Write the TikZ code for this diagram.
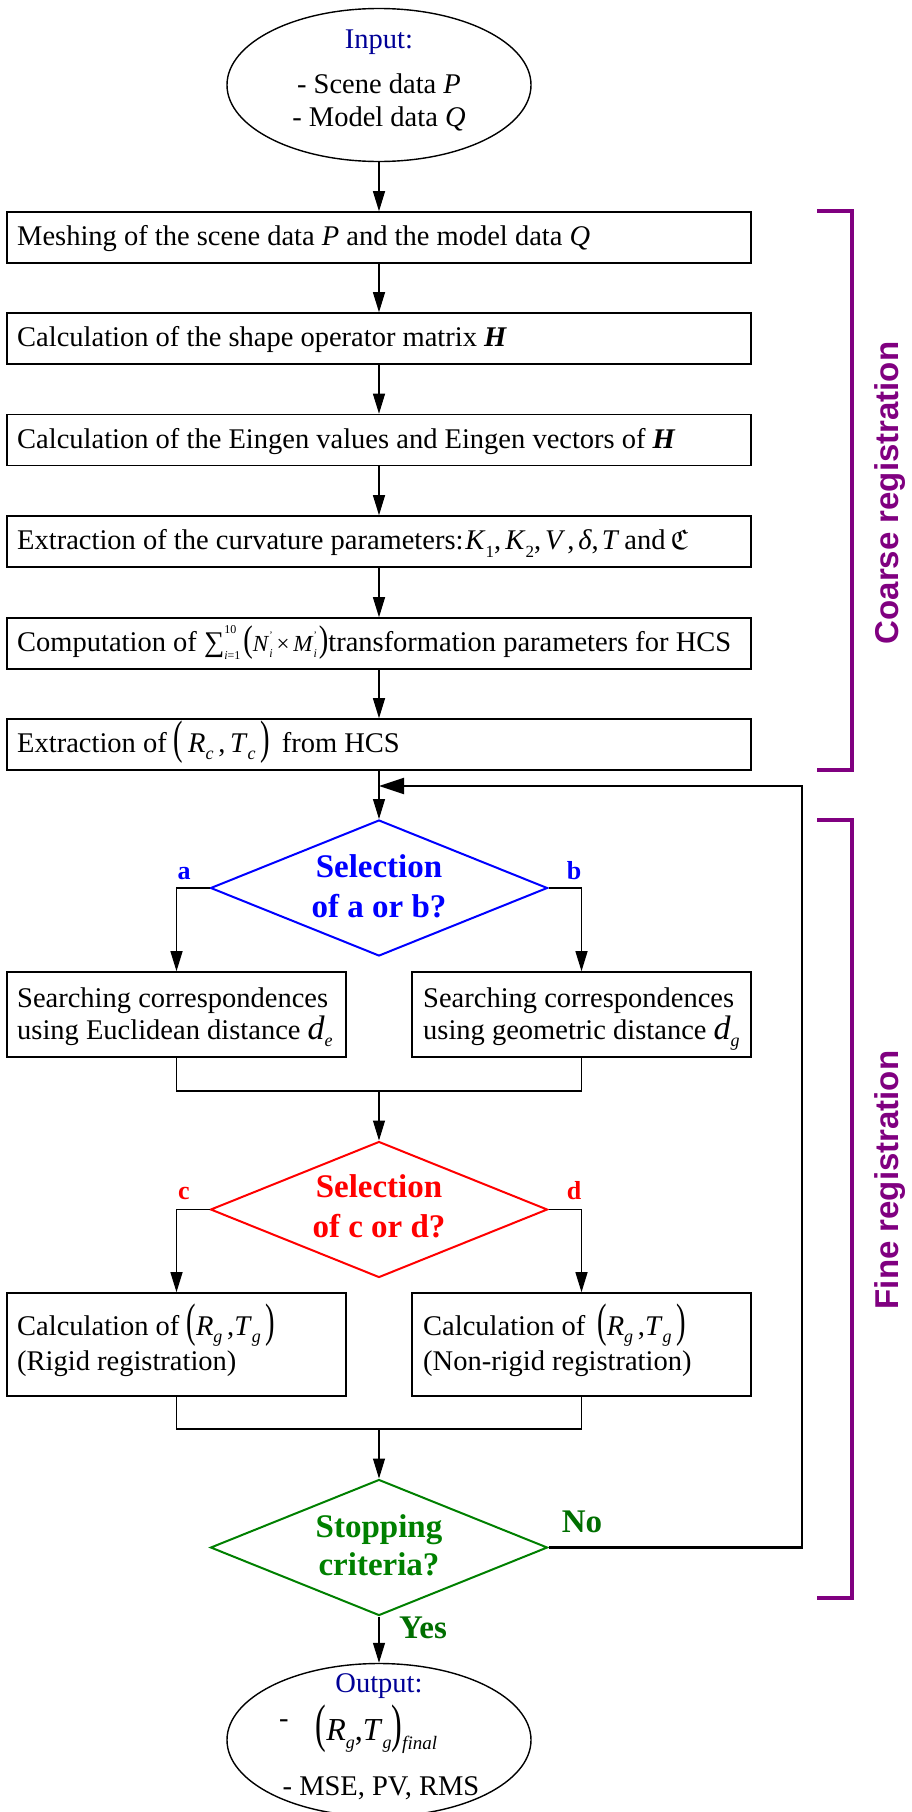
\documentclass[tikz,border=0pt]{standalone}
\usepackage{amssymb}
\usepackage{graphicx}
\usepackage{fontspec}
\setmainfont{Liberation Serif}
\newfontfamily\arialfont{Liberation Sans}
\usetikzlibrary{shapes.geometric,arrows.meta}
\newcommand\fsz[2]{\fontsize{#1}{#2}\selectfont}
\newcommand\bpar[1]{\raisebox{-0.06em}{\scalebox{1}[1.65]{#1}}}
\newcommand\sbi[1]{\raisebox{-0.28em}{\fsz{18}{18}\textit{#1}}}
\newcommand\sbn[1]{\raisebox{-0.3em}{\fsz{17}{17}#1}}
\newcommand\primesub[1]{\rlap{\raisebox{0.55em}{\fsz{10}{10}'}}\raisebox{-0.3em}{\fsz{12}{12}\textit{#1}}}
\definecolor{navyt}{RGB}{0,0,150}
\definecolor{bluet}{RGB}{0,0,255}
\definecolor{redt}{RGB}{255,0,0}
\definecolor{greent}{RGB}{0,128,0}
\definecolor{greendk}{RGB}{0,110,0}
\definecolor{purp}{RGB}{128,0,128}
\begin{document}
\begin{tikzpicture}[x=1pt,y=-1pt,
  wbox/.style={draw, line width=1.6pt, minimum width=744pt, minimum height=51pt, inner sep=0pt},
  sbox/.style={draw, line width=1.6pt, minimum width=339pt, minimum height=85pt, inner sep=0pt},
  tbox/.style={draw, line width=1.6pt, minimum width=339pt, minimum height=103pt, inner sep=0pt},
  txt/.style={anchor=base west, inner sep=0pt, font=\fsz{28.5}{34}},
  ctxt/.style={anchor=base, inner sep=0pt, font=\fsz{28.5}{34}},
  arr/.style={line width=1.2pt, -{Triangle[length=20pt,width=12pt]}},
  lnk/.style={line width=1.2pt},
  dia/.style={diamond, draw, minimum width=337pt, minimum height=136pt, inner sep=0pt, line width=2pt},
  ell/.style={ellipse, draw, line width=1.4pt, minimum width=304pt, minimum height=153pt, inner sep=0pt},
  brk/.style={draw=purp, line width=3.5pt},
  dtxt/.style={anchor=base, inner sep=0pt, font=\bfseries\fsz{33}{33}},
  ltxt/.style={anchor=base, inner sep=0pt, font=\bfseries\fsz{26}{26}},
  vlab/.style={rotate=90, font=\arialfont\bfseries\fsz{33}{33}, text=purp, inner sep=0pt}
]
\useasboundingbox (0,0) rectangle (912,1812);

% input ellipse
\node[ell] (in) at (379,85) {};
\node[ctxt, text=navyt] (in1) at (379,48) {Input:};
\node[ctxt] (in2) at (379,93) {- Scene data \textit{P}};
\node[ctxt] (in3) at (379,126) {- Model data \textit{Q}};

% coarse boxes
\node[wbox] (b1) at (379,237.5) {};
\node[wbox] (b2) at (379,338.5) {};
\node[wbox] (b3) at (379,440) {};
\node[wbox] (b4) at (379,541.5) {};
\node[wbox] (b5) at (379,643.5) {};
\node[wbox] (b6) at (379,744.5) {};
\node[txt] (t1) at (17,245) {Meshing of the scene data \textit{P} and the model data \textit{Q}};
\node[txt] (t2) at (17,346) {Calculation of the shape operator matrix \textbf{\textit{H}}};
\node[txt] (t3) at (17,448) {Calculation of the Eingen values and Eingen vectors of \textbf{\textit{H}}};
\node[txt] (t4) at (17,549) {Extraction of the curvature parameters:\hspace{2pt}\textit{K}\sbn{1},\hspace{4pt}\textit{K}\sbn{2},\hspace{4pt}\textit{V}\kern2pt,\hspace{4pt}\textit{δ},\hspace{3pt}\textit{T}\hspace{5pt}and\hspace{5pt}$\mathfrak{C}$};
\node[txt] (t5) at (17,651) {Computation of ∑\rlap{\raisebox{0.62em}{\fsz{12}{12}10}}\raisebox{-0.3em}{\fsz{12}{12}\textit{i}=1}\hspace{3pt}\scalebox{1}[1.3]{(}{\fsz{23}{23}\textit{N}\primesub{i}\,×\,\textit{M}\primesub{i}}\hspace{2pt}\scalebox{1}[1.3]{)}transformation parameters for HCS};
\node[txt] (t6) at (17,752) {Extraction of \bpar{(}\,\textit{R}\sbi{c}\,,\,\textit{T}\sbi{c}\,\bpar{)}\, from HCS};

% blue diamond
\node[dia, draw=bluet] (da) at (379,888) {};
\node[dtxt, text=bluet] (da1) at (379,877) {Selection};
\node[dtxt, text=bluet] (da2) at (379,917) {of a or b?};
\node[ltxt, text=bluet] (la) at (184,879) {a};
\node[ltxt, text=bluet] (lb) at (574,879) {b};

% search boxes
\node[sbox] (ba) at (176.5,1014.5) {};
\node[sbox] (bb) at (581.5,1014.5) {};
\node[txt] (ta1) at (17,1007) {Searching correspondences};
\node[txt] (ta2) at (17,1039) {using Euclidean distance {\fsz{34}{34}\textit{d}}\sbi{e}};
\node[txt] (tb1) at (423,1007) {Searching correspondences};
\node[txt] (tb2) at (423,1039) {using geometric distance {\fsz{34}{34}\textit{d}}\sbi{g}};

% red diamond
\node[dia, draw=redt] (dr) at (379,1209.5) {};
\node[dtxt, text=redt] (dr1) at (379,1197) {Selection};
\node[dtxt, text=redt] (dr2) at (379,1237) {of c or d?};
\node[ltxt, text=redt] (lc) at (184,1199) {c};
\node[ltxt, text=redt] (ld) at (574,1199) {d};

% calculation boxes
\node[tbox] (bc) at (176.5,1344.5) {};
\node[tbox] (bd) at (581.5,1344.5) {};
\node[txt] (tc1) at (17,1335) {Calculation of \bpar{(}\textit{R}\sbi{g}\,,\textit{T}\sbi{g}\,\bpar{)}};
\node[txt] (tc2) at (17,1370) {(Rigid registration)};
\node[txt] (td1) at (423,1335) {Calculation of \,\bpar{(}\textit{R}\sbi{g}\,,\textit{T}\sbi{g}\,\bpar{)}};
\node[txt] (td2) at (423,1370) {(Non-rigid registration)};

% green diamond
\node[dia, draw=greent] (dg) at (379,1547.5) {};
\node[dtxt, text=greent] (dg1) at (379,1537) {Stopping};
\node[dtxt, text=greent] (dg2) at (379,1575) {criteria?};
\node[dtxt, text=greendk] (lno) at (582,1532) {No};
\node[dtxt, text=greendk] (lyes) at (423,1638) {Yes};

% output ellipse
\node[ell] (out) at (379,1740) {};
\node[ctxt, text=navyt] (o1) at (379,1692) {Output:};
\node[txt] (o2) at (279,1740) {\raisebox{0.43em}{-}\hspace{27pt}{\fsz{32}{32}\bpar{(}\textit{R}\sbi{g},\textit{T}\sbi{g}\bpar{)}}\raisebox{-0.35em}{\fsz{19}{19}\textit{final}}};
\node[ctxt] (o3) at (381,1795) {- MSE, PV, RMS};

% connectors
\draw[arr] (in.south) -- (b1.north);
\draw[arr] (b1.south) -- (b2.north);
\draw[arr] (b2.south) -- (b3.north);
\draw[arr] (b3.south) -- (b4.north);
\draw[arr] (b4.south) -- (b5.north);
\draw[arr] (b5.south) -- (b6.north);
\draw[arr] (b6.south) -- (da.north);
\draw[arr] (da.west) -| (ba.north);
\draw[arr] (da.east) -| (bb.north);
\coordinate (m1) at (379,1091);
\draw[lnk] (ba.south) |- (m1) -| (bb.south);
\draw[arr] (m1) -- (dr.north);
\draw[arr] (dr.west) -| (bc.north);
\draw[arr] (dr.east) -| (bd.north);
\coordinate (m2) at (379,1429);
\draw[lnk] (bc.south) |- (m2) -| (bd.south);
\draw[arr] (m2) -- (dg.north);
\draw[arr] (dg.south) -- (out.north);
\coordinate (lp) at (802,786);
\draw[line width=2.2pt, -{Triangle[length=25pt,width=16pt]}] (dg.east) -| (lp) -- (lp -| da.north);

% brackets
\coordinate (c1) at (817,211);
\coordinate (c2) at (852,211);
\coordinate (c3) at (852,770);
\coordinate (c4) at (817,770);
\draw[brk] (c1) -- (c2) -- (c3) -- (c4);
\coordinate (f1) at (817,820);
\coordinate (f2) at (852,820);
\coordinate (f3) at (852,1598);
\coordinate (f4) at (817,1598);
\draw[brk] (f1) -- (f2) -- (f3) -- (f4);
\node[vlab] (ct) at (890,493) {Coarse registration};
\node[vlab] (ft) at (890,1180) {Fine registration};
\end{tikzpicture}
\end{document}
